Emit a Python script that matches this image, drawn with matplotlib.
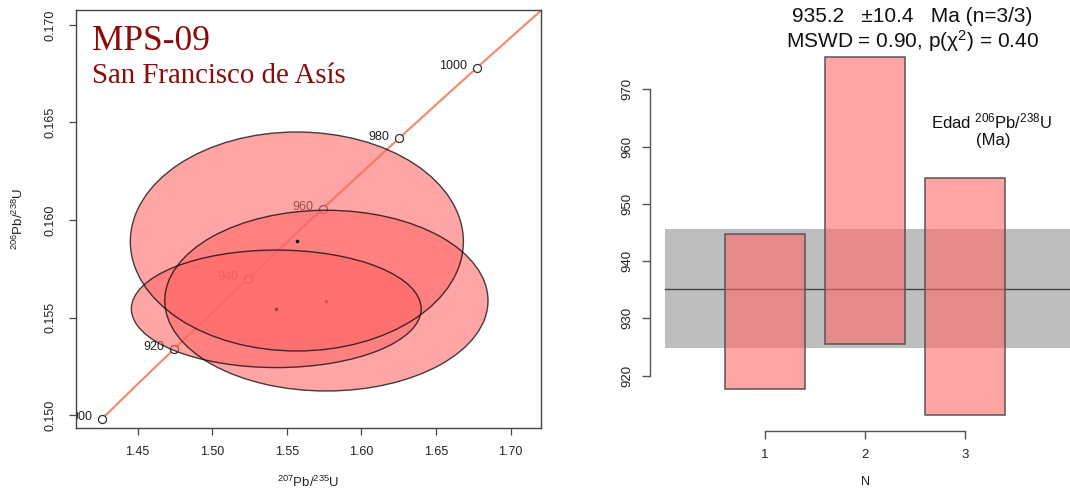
import numpy as np
import matplotlib
matplotlib.use("Agg")
import matplotlib.pyplot as plt
from matplotlib.patches import Ellipse, Rectangle

plt.rcParams['font.family'] = ['Liberation Sans', 'DejaVu Sans']
plt.rcParams['mathtext.fontset'] = 'custom'
plt.rcParams['mathtext.rm'] = 'Liberation Sans'
plt.rcParams['mathtext.it'] = 'Liberation Sans:italic'
plt.rcParams['mathtext.bf'] = 'Liberation Sans:bold'

# ---------------- data ----------------
# Concordia age marks (Ma)
conc_ages = [900, 920, 940, 960, 980, 1000]
# U decay constants (1/yr)
lam238 = 1.55125e-10
lam235 = 9.8485e-10

# Error ellipses (drawing order): centres and half-axes
ell_x = [1.5765, 1.5429, 1.5567]
ell_y = [0.15587, 0.15545, 0.15890]
ell_hx = [0.1083, 0.0971, 0.1116]
ell_hy = [0.00463, 0.00301, 0.00561]

# Weighted mean panel
n_idx = [1, 2, 3]
ages = [931.2, 950.6, 933.85]
age_err = [13.6, 25.0, 20.65]
wmean = 935.2
wmean_err = 10.4

x_ticks_left = [1.45, 1.50, 1.55, 1.60, 1.65, 1.70]
y_ticks_left = [0.150, 0.155, 0.160, 0.165, 0.170]
y_ticks_right = [920, 930, 940, 950, 960, 970]

FILL = (1.0, 0.40, 0.40, 0.59)

# ---------------- figure ----------------
W, H = 1070, 494
fig = plt.figure(figsize=(W / 100, H / 100), dpi=100)

def px_axes(l, t, r, b):
    return [l / W, 1 - b / H, (r - l) / W, (b - t) / H]

# ======== Left: concordia ========
ax1 = fig.add_axes(px_axes(76, 10, 541, 427.7))
ax1.set_xlim(1.4087, 1.7203)
ax1.set_ylim(0.14936, 0.17076)

t_line = np.linspace(900e6, 1020e6, 300)
ax1.plot(np.exp(lam235 * t_line) - 1, np.exp(lam238 * t_line) - 1,
         color='#EE9070', lw=1.6, zorder=1)
for a in conc_ages:
    t = a * 1e6
    cx, cy = np.exp(lam235 * t) - 1, np.exp(lam238 * t) - 1
    ax1.plot(cx, cy, 'o', ms=5.8, mfc='white', mec='#333333', mew=0.9, zorder=2)
    ax1.annotate(str(a), (cx, cy), xytext=(-7, 1), textcoords='offset points',
                 ha='right', va='center', fontsize=9, color='#222222',
                 zorder=2, annotation_clip=False, clip_on=True)

z = 3
for x, y, hx, hy in zip(ell_x, ell_y, ell_hx, ell_hy):
    ax1.add_patch(Ellipse((x, y), 2 * hx, 2 * hy, facecolor=FILL,
                          edgecolor='none', zorder=z))
    ax1.plot(x, y, 'o', ms=1.6, color='#111111', zorder=z + 0.5)
    z += 1
for x, y, hx, hy in zip(ell_x, ell_y, ell_hx, ell_hy):
    ax1.add_patch(Ellipse((x, y), 2 * hx, 2 * hy, facecolor='none',
                          edgecolor=(0, 0, 0, 0.72), lw=1.0, zorder=10))

ax1.set_xticks(x_ticks_left)
ax1.set_xticklabels([f"{v:.2f}" for v in x_ticks_left])
ax1.set_yticks(y_ticks_left)
ax1.set_yticklabels([f"{v:.3f}" for v in y_ticks_left])
ax1.tick_params(direction='out', length=5, width=0.9, color='#444444',
                labelsize=9, labelcolor='#222222')
ax1.tick_params(axis='x', pad=8)
ax1.tick_params(axis='y', pad=9, labelrotation=90)
for lab in ax1.get_yticklabels():
    lab.set_va('center')
for s in ax1.spines.values():
    s.set_color('#444444')
    s.set_linewidth(1.0)

fig.text(308 / W, 1 - 482 / H, r'$^{207}$Pb/$^{235}$U', ha='center', va='center',
         fontsize=9.5, color='#222222')
fig.text(18 / W, 1 - 219 / H, r'$^{206}$Pb/$^{238}$U', ha='center', va='center',
         fontsize=9.5, color='#222222', rotation=90)

fig.text(92 / W, 1 - 50 / H, 'MPS-09', fontsize=25.5, color='#8B0A0A',
         family='Liberation Serif', ha='left', va='baseline')
fig.text(92 / W, 1 - 83 / H, 'San Francisco de Asís', fontsize=20.8, color='#8B0A0A',
         family='Liberation Serif', ha='left', va='baseline')

# ======== Right: weighted mean ========
ax2 = fig.add_axes(px_axes(650, 40.5, 1070, 430.7))
ax2.set_xlim(-0.15, 4.05)
ax2.set_ylim(910.4, 978.5)

ax2.add_patch(Rectangle((0, wmean - wmean_err), 6, 2 * wmean_err,
                        facecolor='#BEBEBE', edgecolor='none', zorder=1))
ax2.plot([0, 6], [wmean, wmean], color='#444444', lw=1.0, zorder=2)
for i, a, e in zip(n_idx, ages, age_err):
    ax2.add_patch(Rectangle((i - 0.4, a - e), 0.8, 2 * e,
                            facecolor=FILL, edgecolor='#555555',
                            lw=1.1, zorder=3))

for s in ['top', 'right']:
    ax2.spines[s].set_visible(False)
ax2.spines['left'].set_bounds(920, 970)
ax2.spines['bottom'].set_bounds(1, 3)
for s in ['left', 'bottom']:
    ax2.spines[s].set_color('#555555')
    ax2.spines[s].set_linewidth(1.0)
ax2.set_yticks(y_ticks_right)
ax2.set_xticks(n_idx)
ax2.tick_params(direction='out', length=6, width=1.0, color='#555555',
                labelsize=9.5, labelcolor='#222222')
ax2.tick_params(axis='y', pad=6, labelrotation=90)
ax2.tick_params(axis='x', pad=7)
for lab in ax2.get_yticklabels():
    lab.set_va('center')

fig.text(865 / W, 1 - 482 / H, 'N', ha='center', va='center', fontsize=9,
         color='#222222')

fig.text(912 / W, 1 - 16 / H, '935.2   ±10.4   Ma (n=3/3)', ha='center',
         va='center', fontsize=15, color='#111111')
fig.text(913 / W, 1 - 41 / H, r'MSWD = 0.90, p(χ$^{2}$) = 0.40', ha='center',
         va='center', fontsize=15, color='#111111')
fig.text(992 / W, 1 - 121 / H, r'Edad $^{206}$Pb/$^{238}$U', ha='center',
         va='center', fontsize=12, color='#111111')
fig.text(993 / W, 1 - 140 / H, '(Ma)', ha='center', va='center', fontsize=12,
         color='#111111')

fig.savefig('out.png', dpi=100)
